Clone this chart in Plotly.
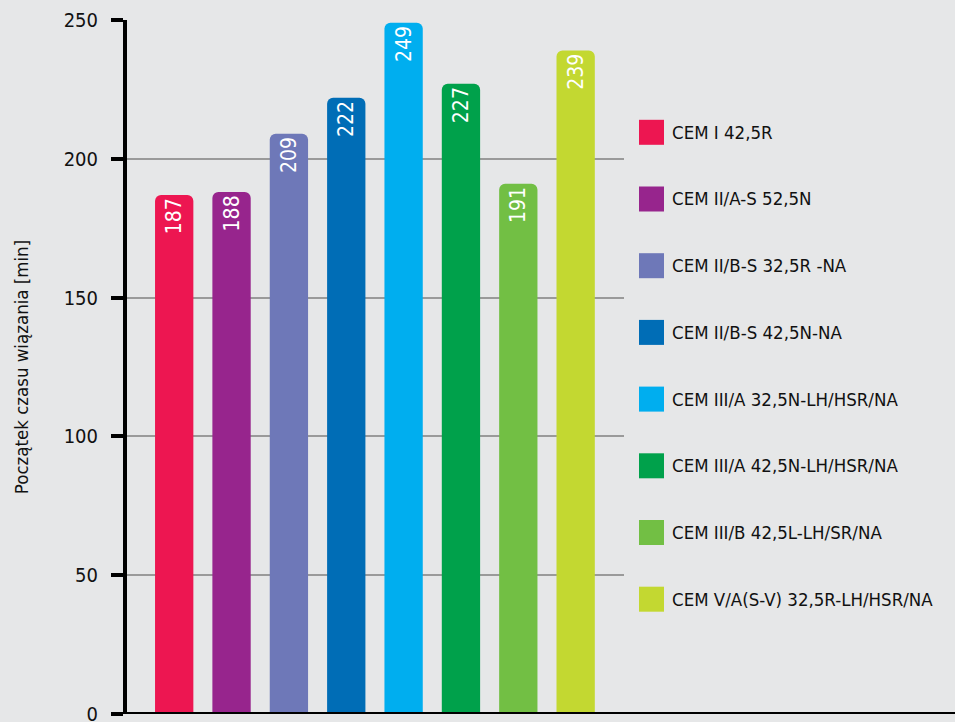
import plotly.graph_objects as go

# Cement types and initial setting time [min]
cements = [
    "CEM I 42,5R",
    "CEM II/A-S 52,5N",
    "CEM II/B-S 32,5R -NA",
    "CEM II/B-S 42,5N-NA",
    "CEM III/A 32,5N-LH/HSR/NA",
    "CEM III/A 42,5N-LH/HSR/NA",
    "CEM III/B 42,5L-LH/SR/NA",
    "CEM V/A(S-V) 32,5R-LH/HSR/NA",
]
setting_time = [187, 188, 209, 222, 249, 227, 191, 239]
colors = ["#ED1651", "#97258D", "#6E78B8", "#006DB6",
          "#00AEEF", "#00A14B", "#72BF44", "#C3D831"]
y_ticks = [0, 50, 100, 150, 200, 250]

FONT = "DejaVu Sans Condensed, Liberation Sans Narrow, sans-serif"
BG = "#E6E7E8"

W, H = 955, 722
ML, MR, MT, MB = 127, 331, 20, 8
plot_w = W - ML - MR
plot_h = H - MT - MB

fig = go.Figure()
fig.add_trace(go.Bar(
    x=list(range(len(cements))),
    y=setting_time,
    marker=dict(color=colors, line=dict(width=0)),
    text=[str(v) for v in setting_time],
    textposition="inside",
    insidetextanchor="end",
    textangle=-90,
    textfont=dict(family=FONT, size=21, color="white"),
    hovertext=cements,
    showlegend=False,
))

# base line of the chart, running out to the right edge
fig.add_shape(type="line", xref="paper", yref="y",
              x0=(112 - ML) / plot_w, x1=(W - ML) / plot_w, y0=0, y1=0,
              line=dict(color="black", width=4), layer="above")

# legend: coloured squares with cement names
row0, step = 132.3, 66.7
for i, (name, col) in enumerate(zip(cements, colors)):
    cy = row0 + i * step
    py = (H - MB - cy) / plot_h
    half = 12.5 / plot_h
    fig.add_shape(type="rect", xref="paper", yref="paper",
                  x0=(639 - ML) / plot_w, x1=(664 - ML) / plot_w,
                  y0=py - half, y1=py + half,
                  fillcolor=col, line=dict(width=0))
    fig.add_annotation(xref="paper", yref="paper",
                       x=(670 - ML) / plot_w, y=py,
                       xanchor="left", yanchor="middle",
                       text=name, showarrow=False,
                       font=dict(family=FONT, size=18.5, color="#111111"))

fig.update_layout(
    width=W, height=H,
    margin=dict(l=ML, r=MR, t=MT, b=MB, autoexpand=False),
    paper_bgcolor=BG, plot_bgcolor=BG,
    bargap=0.332,
    barcornerradius=6,
    font=dict(family=FONT, color="#111111"),
    xaxis=dict(range=[-0.823, 7.843], showticklabels=False, ticks="",
               showgrid=False, zeroline=False, showline=False,
               automargin=False),
    yaxis=dict(range=[0, 250], tickvals=y_ticks,
               showgrid=True, gridcolor="#9A9A9A", gridwidth=2,
               zeroline=False, showline=True, linecolor="black", linewidth=4,
               ticks="outside", ticklen=12, tickwidth=4, tickcolor="black",
               ticklabelstandoff=9, ticklabeloverflow="allow",
               tickfont=dict(family=FONT, size=20, color="#111111"),
               title=dict(text="Początek czasu wiązania [min]",
                          font=dict(family=FONT, size=18.5, color="#111111"),
                          standoff=31),
               automargin=False),
)

fig.write_html("out.html")
